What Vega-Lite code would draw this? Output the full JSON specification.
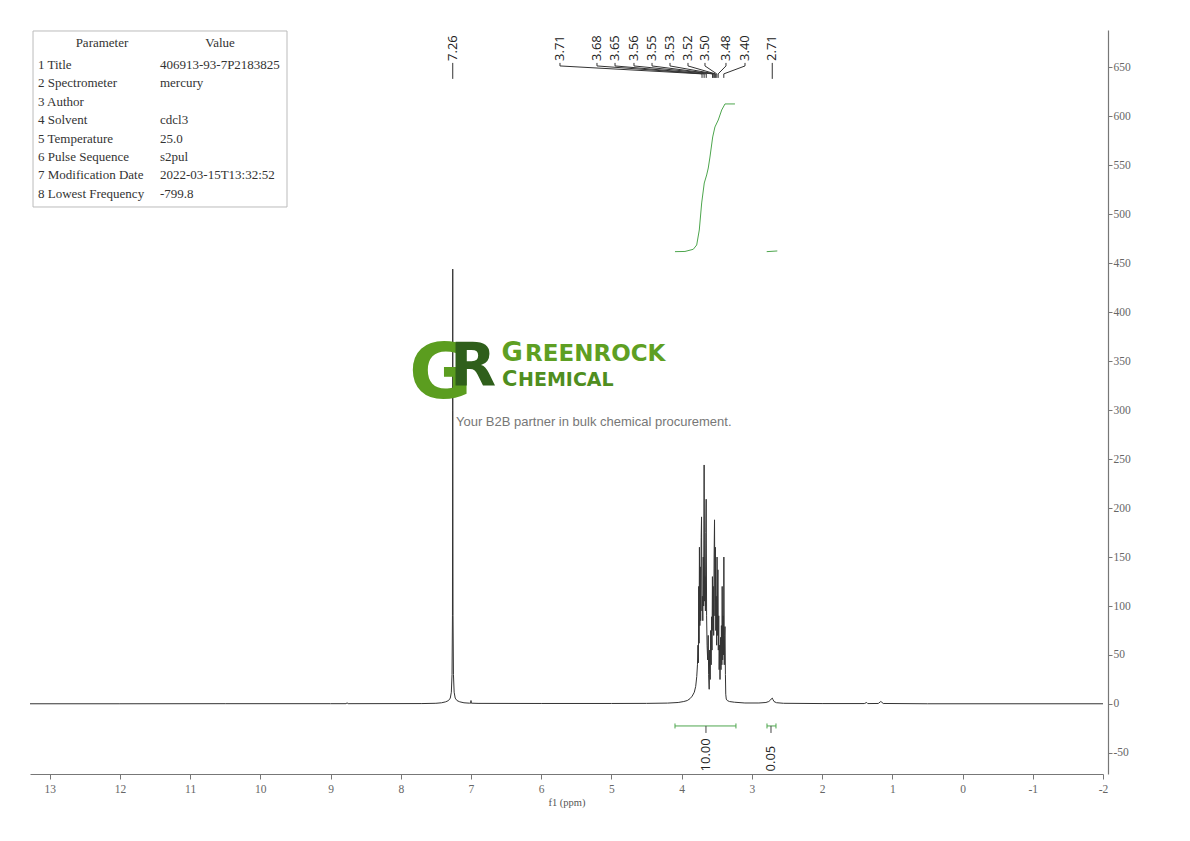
{
  "$schema": "https://vega.github.io/schema/vega-lite/v6.json",
  "width": 1073,
  "height": 744,
  "autosize": {"type": "none"},
  "padding": {"left": 30, "top": 30, "right": 87, "bottom": 67},
  "background": "white",
  "config": {"view": {"stroke": null}},
  "datasets": {
    "spectrum": [
      {"ppm": 13.28, "int": 0.2}, {"ppm": 12.0, "int": 0.2}, {"ppm": 10.5, "int": 0.3}, {"ppm": 9.0, "int": 0.3},
      {"ppm": 8.78, "int": 0.3}, {"ppm": 8.765, "int": 1.2}, {"ppm": 8.75, "int": 0.3}, {"ppm": 7.7, "int": 0.4},
      {"ppm": 7.5, "int": 0.7}, {"ppm": 7.42, "int": 1.2}, {"ppm": 7.36, "int": 2.2}, {"ppm": 7.32, "int": 3.5},
      {"ppm": 7.295, "int": 6}, {"ppm": 7.28, "int": 12}, {"ppm": 7.27, "int": 30}, {"ppm": 7.264, "int": 90},
      {"ppm": 7.261, "int": 300}, {"ppm": 7.26, "int": 444}, {"ppm": 7.259, "int": 300}, {"ppm": 7.256, "int": 90},
      {"ppm": 7.25, "int": 30}, {"ppm": 7.24, "int": 12}, {"ppm": 7.225, "int": 6}, {"ppm": 7.2, "int": 3.5},
      {"ppm": 7.16, "int": 2.2}, {"ppm": 7.1, "int": 1.2}, {"ppm": 7.02, "int": 0.8}, {"ppm": 7.005, "int": 0.8},
      {"ppm": 7.0, "int": 3.5}, {"ppm": 6.995, "int": 0.8}, {"ppm": 6.9, "int": 0.6}, {"ppm": 6.0, "int": 0.5},
      {"ppm": 5.0, "int": 0.5}, {"ppm": 4.5, "int": 0.6}, {"ppm": 4.2, "int": 0.9}, {"ppm": 4.05, "int": 1.5},
      {"ppm": 3.97, "int": 2.5}, {"ppm": 3.92, "int": 3.5}, {"ppm": 3.88, "int": 5.5}, {"ppm": 3.85, "int": 8},
      {"ppm": 3.82, "int": 12}, {"ppm": 3.8, "int": 18}, {"ppm": 3.785, "int": 28}, {"ppm": 3.775, "int": 40},
      {"ppm": 3.768, "int": 60}, {"ppm": 3.762, "int": 42}, {"ppm": 3.757, "int": 120}, {"ppm": 3.752, "int": 62},
      {"ppm": 3.747, "int": 160}, {"ppm": 3.741, "int": 80}, {"ppm": 3.735, "int": 140}, {"ppm": 3.729, "int": 85},
      {"ppm": 3.722, "int": 170}, {"ppm": 3.717, "int": 191}, {"ppm": 3.711, "int": 95}, {"ppm": 3.705, "int": 110},
      {"ppm": 3.699, "int": 85}, {"ppm": 3.693, "int": 150}, {"ppm": 3.687, "int": 100}, {"ppm": 3.68, "int": 244},
      {"ppm": 3.674, "int": 105}, {"ppm": 3.668, "int": 130}, {"ppm": 3.662, "int": 95}, {"ppm": 3.656, "int": 175},
      {"ppm": 3.651, "int": 209}, {"ppm": 3.645, "int": 90}, {"ppm": 3.638, "int": 60}, {"ppm": 3.63, "int": 45},
      {"ppm": 3.622, "int": 70}, {"ppm": 3.616, "int": 30}, {"ppm": 3.608, "int": 15}, {"ppm": 3.601, "int": 55},
      {"ppm": 3.594, "int": 25}, {"ppm": 3.587, "int": 75}, {"ppm": 3.58, "int": 40}, {"ppm": 3.574, "int": 89},
      {"ppm": 3.568, "int": 55}, {"ppm": 3.562, "int": 130}, {"ppm": 3.556, "int": 75}, {"ppm": 3.55, "int": 120},
      {"ppm": 3.544, "int": 70}, {"ppm": 3.538, "int": 150}, {"ppm": 3.532, "int": 188}, {"ppm": 3.526, "int": 90},
      {"ppm": 3.52, "int": 160}, {"ppm": 3.514, "int": 75}, {"ppm": 3.508, "int": 110}, {"ppm": 3.502, "int": 60},
      {"ppm": 3.496, "int": 150}, {"ppm": 3.49, "int": 70}, {"ppm": 3.484, "int": 137}, {"ppm": 3.478, "int": 55},
      {"ppm": 3.472, "int": 90}, {"ppm": 3.466, "int": 35}, {"ppm": 3.46, "int": 60}, {"ppm": 3.454, "int": 25},
      {"ppm": 3.446, "int": 68}, {"ppm": 3.44, "int": 35}, {"ppm": 3.434, "int": 80}, {"ppm": 3.428, "int": 40},
      {"ppm": 3.423, "int": 120}, {"ppm": 3.416, "int": 45}, {"ppm": 3.41, "int": 90}, {"ppm": 3.404, "int": 50},
      {"ppm": 3.399, "int": 150}, {"ppm": 3.393, "int": 40}, {"ppm": 3.388, "int": 70}, {"ppm": 3.383, "int": 79},
      {"ppm": 3.377, "int": 30}, {"ppm": 3.372, "int": 10}, {"ppm": 3.365, "int": 5}, {"ppm": 3.35, "int": 3.5},
      {"ppm": 3.32, "int": 2.5}, {"ppm": 3.25, "int": 1.8}, {"ppm": 3.1, "int": 1}, {"ppm": 2.9, "int": 1},
      {"ppm": 2.8, "int": 1.5}, {"ppm": 2.76, "int": 2.5}, {"ppm": 2.735, "int": 4}, {"ppm": 2.72, "int": 5.5},
      {"ppm": 2.71, "int": 6}, {"ppm": 2.7, "int": 4.5}, {"ppm": 2.685, "int": 2.5}, {"ppm": 2.65, "int": 1.3},
      {"ppm": 2.55, "int": 0.7}, {"ppm": 2.0, "int": 0.4}, {"ppm": 1.4, "int": 0.4}, {"ppm": 1.365, "int": 1.5},
      {"ppm": 1.35, "int": 0.4}, {"ppm": 1.2, "int": 0.5}, {"ppm": 1.165, "int": 2.5}, {"ppm": 1.15, "int": 1.8},
      {"ppm": 1.13, "int": 0.5}, {"ppm": 0.5, "int": 0.2}, {"ppm": -2.0, "int": 0.2}
    ],
    "integralCurve": [
      {"seg": 1, "ppm": 4.095, "val": 461.8}, {"seg": 1, "ppm": 3.953, "val": 462.0}, {"seg": 1, "ppm": 3.835, "val": 464.2},
      {"seg": 1, "ppm": 3.786, "val": 468.6}, {"seg": 1, "ppm": 3.749, "val": 483.9}, {"seg": 1, "ppm": 3.715, "val": 511.5},
      {"seg": 1, "ppm": 3.678, "val": 531.9}, {"seg": 1, "ppm": 3.644, "val": 540.1}, {"seg": 1, "ppm": 3.621, "val": 547.2},
      {"seg": 1, "ppm": 3.597, "val": 558.4}, {"seg": 1, "ppm": 3.558, "val": 578.9}, {"seg": 1, "ppm": 3.526, "val": 589.1},
      {"seg": 1, "ppm": 3.479, "val": 596.2}, {"seg": 1, "ppm": 3.43, "val": 606.4}, {"seg": 1, "ppm": 3.383, "val": 612.6},
      {"seg": 1, "ppm": 3.241, "val": 612.6},
      {"seg": 2, "ppm": 2.789, "val": 461.8}, {"seg": 2, "ppm": 2.638, "val": 462.5}
    ],
    "peaks": [
      {"label": "7.26", "peak": 7.26, "pos": 7.26, "kind": "single"},
      {"label": "3.71", "peak": 3.71, "pos": 5.733, "kind": "multi"},
      {"label": "3.68", "peak": 3.68, "pos": 5.206, "kind": "multi"},
      {"label": "3.65", "peak": 3.65, "pos": 4.949, "kind": "multi"},
      {"label": "3.56", "peak": 3.56, "pos": 4.679, "kind": "multi"},
      {"label": "3.55", "peak": 3.55, "pos": 4.422, "kind": "multi"},
      {"label": "3.53", "peak": 3.53, "pos": 4.166, "kind": "multi"},
      {"label": "3.52", "peak": 3.52, "pos": 3.91, "kind": "multi"},
      {"label": "3.50", "peak": 3.5, "pos": 3.668, "kind": "multi"},
      {"label": "3.48", "peak": 3.48, "pos": 3.369, "kind": "multi"},
      {"label": "3.40", "peak": 3.4, "pos": 3.098, "kind": "multi"},
      {"label": "2.71", "peak": 2.71, "pos": 2.71, "kind": "single"}
    ],
    "integrals": [
      {"from": 4.095, "to": 3.227, "center": 3.654, "label": "10.00"},
      {"from": 2.785, "to": 2.657, "center": 2.728, "label": "0.05"}
    ],
    "table": [
      {"row": 1, "param": "1 Title", "value": "406913-93-7P2183825"},
      {"row": 2, "param": "2 Spectrometer", "value": "mercury"},
      {"row": 3, "param": "3 Author", "value": ""},
      {"row": 4, "param": "4 Solvent", "value": "cdcl3"},
      {"row": 5, "param": "5 Temperature", "value": "25.0"},
      {"row": 6, "param": "6 Pulse Sequence", "value": "s2pul"},
      {"row": 7, "param": "7 Modification Date", "value": "2022-03-15T13:32:52"},
      {"row": 8, "param": "8 Lowest Frequency", "value": "-799.8"}
    ]
  },
  "layer": [
    {
      "layer": [
        {
          "data": {"name": "spectrum"},
          "mark": {"type": "line", "color": "#333333", "strokeWidth": 1},
          "encoding": {
            "x": {
              "field": "ppm", "type": "quantitative",
              "scale": {"domain": [-2, 13.28], "reverse": true, "nice": false, "zero": false},
              "axis": {
                "values": [13, 12.5, 12, 11.5, 11, 10.5, 10, 9.5, 9, 8.5, 8, 7.5, 7, 6.5, 6, 5.5, 5, 4.5, 4, 3.5, 3, 2.5, 2, 1.5, 1, 0.5, 0, -0.5, -1, -1.5, -2],
                "labelExpr": "datum.value % 1 === 0 ? '' + datum.value : ''",
                "tickSize": {"condition": {"test": "datum.value % 1 === 0", "value": 5}, "value": 3},
                "domainColor": "#777777", "tickColor": "#777777", "domainWidth": 1.2, "tickWidth": 1,
                "labelColor": "#666666", "labelFont": "Liberation Serif", "labelFontSize": 11.5,
                "labelPadding": 4, "labelFlush": false, "labelOverlap": false, "grid": false,
                "title": "f1 (ppm)", "titleFont": "Liberation Serif", "titleFontSize": 10.5,
                "titleFontWeight": "normal", "titleColor": "#555555", "titlePadding": 3
              }
            },
            "y": {
              "field": "int", "type": "quantitative",
              "scale": {"domain": [-71.5, 688.1], "nice": false, "zero": false},
              "axis": {
                "orient": "right", "offset": 5,
                "values": [-50, -25, 0, 25, 50, 75, 100, 125, 150, 175, 200, 225, 250, 275, 300, 325, 350, 375, 400, 425, 450, 475, 500, 525, 550, 575, 600, 625, 650, 675],
                "labelExpr": "datum.value % 50 === 0 ? '' + datum.value : ''",
                "tickSize": {"condition": {"test": "datum.value % 50 === 0", "value": 4}, "value": 3},
                "domainColor": "#777777", "tickColor": "#777777", "domainWidth": 1.2, "tickWidth": 1,
                "labelColor": "#666666", "labelFont": "Liberation Serif", "labelFontSize": 11.5,
                "labelPadding": 1, "labelFlush": false, "labelOverlap": false, "grid": false,
                "title": null
              }
            }
          }
        },
        {
          "data": {"name": "integralCurve"},
          "mark": {"type": "line", "color": "#4da64d", "strokeWidth": 1},
          "encoding": {
            "x": {"field": "ppm", "type": "quantitative"},
            "y": {"field": "val", "type": "quantitative"},
            "detail": {"field": "seg", "type": "nominal"}
          }
        },
        {
          "data": {"name": "peaks"},
          "transform": [{"filter": "datum.kind === 'single'"}],
          "mark": {"type": "rule", "color": "#333333", "strokeWidth": 1},
          "encoding": {
            "x": {"field": "peak", "type": "quantitative"},
            "y": {"datum": 654.5},
            "y2": {"datum": 638.2}
          }
        },
        {
          "data": {"name": "peaks"},
          "transform": [{"filter": "datum.kind === 'multi'"}],
          "mark": {"type": "rule", "color": "#333333", "strokeWidth": 1},
          "encoding": {
            "x": {"field": "pos", "type": "quantitative"},
            "y": {"datum": 654.5},
            "y2": {"datum": 651.4}
          }
        },
        {
          "data": {"name": "peaks"},
          "transform": [{"filter": "datum.kind === 'multi'"}],
          "mark": {"type": "rule", "color": "#333333", "strokeWidth": 1},
          "encoding": {
            "x": {"field": "pos", "type": "quantitative"},
            "x2": {"field": "peak"},
            "y": {"datum": 651.4},
            "y2": {"datum": 643.3}
          }
        },
        {
          "data": {"name": "peaks"},
          "transform": [{"filter": "datum.kind === 'multi'"}],
          "mark": {"type": "rule", "color": "#333333", "strokeWidth": 1},
          "encoding": {
            "x": {"field": "peak", "type": "quantitative"},
            "y": {"datum": 643.3},
            "y2": {"datum": 639.2}
          }
        },
        {
          "data": {"name": "peaks"},
          "mark": {"type": "text", "angle": 270, "align": "left", "baseline": "middle", "font": "Open Sans", "fontSize": 13, "color": "#222222"},
          "encoding": {
            "x": {"field": "pos", "type": "quantitative"},
            "y": {"datum": 656.5},
            "text": {"field": "label"}
          }
        },
        {
          "data": {"name": "integrals"},
          "mark": {"type": "rule", "color": "#4da64d", "strokeWidth": 1},
          "encoding": {
            "x": {"field": "from", "type": "quantitative"},
            "x2": {"field": "to"},
            "y": {"datum": -22.46}
          }
        },
        {
          "data": {"name": "integrals"},
          "mark": {"type": "rule", "color": "#4da64d", "strokeWidth": 1},
          "encoding": {
            "x": {"field": "from", "type": "quantitative"},
            "y": {"datum": -19.9},
            "y2": {"datum": -25.0}
          }
        },
        {
          "data": {"name": "integrals"},
          "mark": {"type": "rule", "color": "#4da64d", "strokeWidth": 1},
          "encoding": {
            "x": {"field": "to", "type": "quantitative"},
            "y": {"datum": -19.9},
            "y2": {"datum": -25.0}
          }
        },
        {
          "data": {"name": "integrals"},
          "mark": {"type": "rule", "color": "#444444", "strokeWidth": 1},
          "encoding": {
            "x": {"field": "center", "type": "quantitative"},
            "y": {"datum": -22.46},
            "y2": {"datum": -29.6}
          }
        },
        {
          "data": {"name": "integrals"},
          "mark": {"type": "text", "angle": 270, "align": "left", "baseline": "middle", "font": "Open Sans", "fontSize": 13, "color": "#222222"},
          "encoding": {
            "x": {"field": "center", "type": "quantitative"},
            "y": {"datum": -68.9},
            "text": {"field": "label"}
          }
        },
        {
          "data": {"values": [{"t": "G"}]},
          "mark": {"type": "text", "align": "left", "baseline": "alphabetic", "font": "DejaVu Sans", "fontWeight": "bold", "fontSize": 77, "color": "#5b9d1f"},
          "encoding": {
            "x": {"datum": 7.883},
            "y": {"datum": 312.4},
            "text": {"field": "t"}
          }
        },
        {
          "data": {"values": [{"t": "R"}]},
          "mark": {"type": "text", "align": "left", "baseline": "alphabetic", "font": "DejaVu Sans", "fontWeight": "bold", "fontSize": 60, "color": "#2f5f1b"},
          "encoding": {
            "x": {"datum": 7.299},
            "y": {"datum": 324.7},
            "text": {"field": "t"}
          }
        },
        {
          "data": {"values": [{"t": "G"}]},
          "mark": {"type": "text", "align": "left", "baseline": "alphabetic", "font": "DejaVu Sans", "fontWeight": "bold", "fontSize": 26, "color": "#5e9f23"},
          "encoding": {
            "x": {"datum": 6.564},
            "y": {"datum": 350.2},
            "text": {"field": "t"}
          }
        },
        {
          "data": {"values": [{"t": "REENROCK"}]},
          "mark": {"type": "text", "align": "left", "baseline": "alphabetic", "font": "DejaVu Sans", "fontWeight": "bold", "fontSize": 23, "color": "#5e9f23"},
          "encoding": {
            "x": {"datum": 6.23},
            "y": {"datum": 350.2},
            "text": {"field": "t"}
          }
        },
        {
          "data": {"values": [{"t": "C"}]},
          "mark": {"type": "text", "align": "left", "baseline": "alphabetic", "font": "DejaVu Sans", "fontWeight": "bold", "fontSize": 21, "color": "#4f8e20"},
          "encoding": {
            "x": {"datum": 6.559},
            "y": {"datum": 324.7},
            "text": {"field": "t"}
          }
        },
        {
          "data": {"values": [{"t": "HEMICAL"}]},
          "mark": {"type": "text", "align": "left", "baseline": "alphabetic", "font": "DejaVu Sans", "fontWeight": "bold", "fontSize": 19, "color": "#4f8e20"},
          "encoding": {
            "x": {"datum": 6.33},
            "y": {"datum": 324.7},
            "text": {"field": "t"}
          }
        },
        {
          "data": {"values": [{"t": "Your B2B partner in bulk chemical procurement."}]},
          "mark": {"type": "text", "align": "left", "baseline": "alphabetic", "font": "Liberation Sans", "fontSize": 13, "color": "#777777"},
          "encoding": {
            "x": {"datum": 7.214},
            "y": {"datum": 284.3},
            "text": {"field": "t"}
          }
        }
      ]
    },
    {
      "layer": [
        {
          "data": {"values": [{}]},
          "mark": {"type": "rect", "fill": "white", "stroke": "#bbbbbb", "strokeWidth": 1},
          "encoding": {
            "x": {"datum": 13.237},
            "x2": {"datum": 9.62},
            "y": {"datum": -0.848, "scale": {"domain": [-0.902, 39.533], "reverse": true, "nice": false, "zero": false}, "axis": null},
            "y2": {"datum": 8.717}
          }
        },
        {
          "data": {"values": [{"t": "Parameter"}]},
          "mark": {"type": "text", "align": "center", "baseline": "middle", "font": "Liberation Serif", "fontSize": 13, "color": "#333333"},
          "encoding": {
            "x": {"datum": 12.255},
            "y": {"datum": -0.2, "scale": {"domain": [-0.902, 39.533], "reverse": true, "nice": false, "zero": false}, "axis": null},
            "text": {"field": "t"}
          }
        },
        {
          "data": {"values": [{"t": "Value"}]},
          "mark": {"type": "text", "align": "center", "baseline": "middle", "font": "Liberation Serif", "fontSize": 13, "color": "#333333"},
          "encoding": {
            "x": {"datum": 10.574},
            "y": {"datum": -0.2, "axis": null},
            "text": {"field": "t"}
          }
        },
        {
          "data": {"name": "table"},
          "mark": {"type": "text", "align": "left", "baseline": "middle", "font": "Liberation Serif", "fontSize": 13, "color": "#333333"},
          "encoding": {
            "x": {"datum": 13.166},
            "y": {"field": "row", "type": "quantitative", "axis": null},
            "text": {"field": "param"}
          }
        },
        {
          "data": {"name": "table"},
          "mark": {"type": "text", "align": "left", "baseline": "middle", "font": "Liberation Serif", "fontSize": 13, "color": "#333333"},
          "encoding": {
            "x": {"datum": 11.429},
            "y": {"field": "row", "type": "quantitative", "axis": null},
            "text": {"field": "value"}
          }
        }
      ]
    }
  ],
  "resolve": {"scale": {"y": "independent"}, "axis": {"y": "independent"}}
}
